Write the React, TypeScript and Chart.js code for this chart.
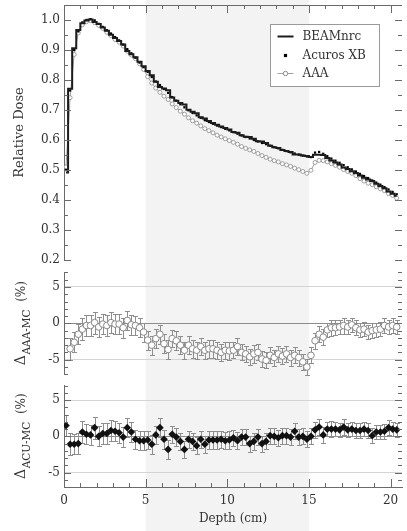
import React, { useEffect, useRef } from "react";
import { Chart, registerables } from "chart.js";

Chart.register(...registerables);

// ---------------- data ----------------
const depthCm = [
  0.125, 0.375, 0.625, 0.875, 1.125, 1.375, 1.625, 1.875, 2.125, 2.375,
  2.625, 2.875, 3.125, 3.375, 3.625, 3.875, 4.125, 4.375, 4.625, 4.875,
  5.125, 5.375, 5.625, 5.875, 6.125, 6.375, 6.625, 6.875, 7.125, 7.375,
  7.625, 7.875, 8.125, 8.375, 8.625, 8.875, 9.125, 9.375, 9.625, 9.875,
  10.125, 10.375, 10.625, 10.875, 11.125, 11.375, 11.625, 11.875, 12.125, 12.375,
  12.625, 12.875, 13.125, 13.375, 13.625, 13.875, 14.125, 14.375, 14.625, 14.875,
  15.125, 15.375, 15.625, 15.875, 16.125, 16.375, 16.625, 16.875, 17.125, 17.375,
  17.625, 17.875, 18.125, 18.375, 18.625, 18.875, 19.125, 19.375, 19.625, 19.875,
  20.125, 20.375,
];

const beamnrcDose = [
  0.492, 0.771, 0.906, 0.967, 0.989, 0.998, 1.002, 0.993, 0.987, 0.975,
  0.964, 0.951, 0.940, 0.930, 0.918, 0.897, 0.886, 0.876, 0.861, 0.846,
  0.830, 0.816, 0.794, 0.777, 0.772, 0.766, 0.742, 0.731, 0.723, 0.718,
  0.701, 0.694, 0.689, 0.676, 0.672, 0.663, 0.657, 0.651, 0.645, 0.640,
  0.635, 0.627, 0.624, 0.616, 0.611, 0.610, 0.604, 0.596, 0.595, 0.590,
  0.581, 0.576, 0.573, 0.567, 0.563, 0.560, 0.552, 0.552, 0.548, 0.547,
  0.543, 0.551, 0.551, 0.550, 0.540, 0.532, 0.525, 0.518, 0.508, 0.503,
  0.496, 0.490, 0.482, 0.474, 0.468, 0.463, 0.454, 0.447, 0.439, 0.428,
  0.421, 0.414,
];

const acurosDose = [
  0.500, 0.765, 0.900, 0.962, 0.992, 1.000, 1.003, 0.999, 0.987, 0.977,
  0.966, 0.955, 0.943, 0.932, 0.918, 0.903, 0.889, 0.874, 0.858, 0.843,
  0.827, 0.810, 0.795, 0.783, 0.770, 0.757, 0.743, 0.731, 0.719, 0.709,
  0.699, 0.690, 0.682, 0.674, 0.666, 0.660, 0.654, 0.648, 0.643, 0.637,
  0.632, 0.626, 0.621, 0.615, 0.610, 0.605, 0.600, 0.595, 0.590, 0.586,
  0.581, 0.576, 0.572, 0.567, 0.563, 0.559, 0.555, 0.551, 0.548, 0.545,
  0.543, 0.558, 0.560, 0.554, 0.546, 0.538, 0.531, 0.524, 0.516, 0.509,
  0.502, 0.495, 0.487, 0.480, 0.473, 0.465, 0.458, 0.451, 0.443, 0.435,
  0.427, 0.419,
];

const aaaDose = [
  0.510, 0.741, 0.885, 0.957, 0.984, 0.994, 0.998, 0.991, 0.982, 0.972,
  0.959, 0.948, 0.935, 0.926, 0.913, 0.896, 0.883, 0.871, 0.854, 0.835,
  0.811, 0.790, 0.773, 0.759, 0.746, 0.735, 0.720, 0.708, 0.696, 0.686,
  0.674, 0.664, 0.656, 0.647, 0.638, 0.631, 0.624, 0.616, 0.610, 0.604,
  0.598, 0.592, 0.586, 0.578, 0.572, 0.567, 0.562, 0.555, 0.548, 0.542,
  0.536, 0.531, 0.527, 0.521, 0.517, 0.512, 0.506, 0.501, 0.495, 0.489,
  0.499, 0.525, 0.532, 0.531, 0.527, 0.521, 0.515, 0.509, 0.501, 0.495,
  0.489, 0.481, 0.471, 0.463, 0.456, 0.451, 0.444, 0.437, 0.431, 0.421,
  0.415, 0.406,
];

const deltaAaaMc = [
  null, -3.5, -2.6, -1.5, -0.8, -0.3, -0.3, 0.1, -0.5, -0.1,
  -0.3, 0.1, -0.1, -0.1, -0.6, 0.4, -0.2, -0.3, -0.6, -1.2,
  -2.3, -3.0, -2.1, -1.5, -2.8, -3.6, -2.1, -2.4, -3.0, -3.7,
  -3.0, -3.5, -3.7, -3.2, -3.7, -3.5, -3.5, -3.7, -4.0, -3.7,
  -3.8, -3.7, -3.2, -4.0, -4.2, -4.6, -4.2, -4.0, -4.9, -5.1,
  -4.4, -4.7, -4.2, -4.5, -4.2, -4.7, -4.4, -4.7, -5.3, -6.0,
  -4.4, -2.4, -1.5, -1.9, -0.9, -0.6, -0.6, -0.5, -0.3, -0.5,
  -0.2, -0.6, -0.9, -0.8, -1.2, -1.0, -0.9, -0.8, -0.3, -0.5,
  -0.3, -0.5,
];

const deltaAcuMc = [
  1.5, -1.1, -1.1, -1.0, 0.6, 0.3, 0.2, 1.2, 0.0, 0.4,
  0.4, 0.8, 0.7, 0.5, -0.1, 1.2, 0.6, -0.4, -0.6, -0.6,
  -0.5, -1.1, 0.2, 1.2, -0.4, -1.8, 0.3, -0.1, -0.7, -1.8,
  -0.4, -0.7, -1.3, -0.4, -1.1, -0.5, -0.5, -0.5, -0.4, -0.6,
  -0.5, -0.2, -0.6, -0.1, -0.1, -1.0, -0.7, -0.1, -1.0, -0.7,
  0.1, 0.0, -0.2, 0.1, 0.1, -0.1, 0.7, -0.1, 0.0, -0.4,
  0.0, 0.9, 1.3, 0.2, 1.0, 1.0, 1.0, 0.9, 1.3, 0.9,
  1.0, 0.8, 0.8, 1.0, 0.8, 0.1, 0.6, 0.6, 0.7, 1.2,
  1.0, 0.9,
];

const mcUncertainty = [
  1.5, 1.5, 1.4, 1.4, 1.5, 1.4, 1.4, 1.5, 1.4, 1.4,
  1.4, 1.4, 1.4, 1.4, 1.4, 1.3, 1.4, 1.3, 1.3, 1.3,
  1.3, 1.3, 1.3, 1.3, 1.3, 1.3, 1.2, 1.3, 1.2, 1.2,
  1.2, 1.2, 1.2, 1.2, 1.2, 1.2, 1.2, 1.2, 1.2, 1.2,
  1.2, 1.1, 1.2, 1.1, 1.1, 1.1, 1.2, 1.1, 1.1, 1.1,
  1.1, 1.1, 1.1, 1.1, 1.1, 1.1, 1.1, 1.1, 1.1, 1.1,
  1.1, 1.1, 1.1, 1.1, 1.0, 1.1, 1.0, 1.0, 1.1, 1.0,
  1.0, 1.0, 1.0, 1.0, 1.0, 1.0, 1.0, 1.0, 1.0, 1.0,
  1.0, 1.0,
];

const doseTicks = [0.2, 0.3, 0.4, 0.5, 0.6, 0.7, 0.8, 0.9, 1.0];
const deltaTicks = [-5, 0, 5];
const depthTicks = [0, 5, 10, 15, 20];
const lungSlab = [5, 15];
const legendLabels = ["BEAMnrc", "Acuros XB", "AAA"];

// ---------------- styling ----------------
const FONT = '"DejaVu Serif", serif';
const AXIS = "#6a6a6a";
const TEXT = "#333333";
const SHADE = "#f3f3f3";

const pts = (ys: (number | null)[]) => depthCm.map((x, i) => ({ x, y: ys[i] }));

const shadePlugin = {
  id: "shade",
  beforeDraw(chart: any) {
    const { ctx } = chart;
    const xs = chart.scales.x;
    const l = xs.getPixelForValue(lungSlab[0]);
    const r = xs.getPixelForValue(lungSlab[1]);
    ctx.save();
    ctx.fillStyle = "#ffffff";
    ctx.fillRect(0, 0, chart.width, chart.height);
    ctx.fillStyle = SHADE;
    ctx.fillRect(l, 0, r - l, chart.height);
    ctx.restore();
  },
};

const errorBarPlugin = {
  id: "errorBars",
  beforeDatasetsDraw(chart: any) {
    const { ctx } = chart;
    const xs = chart.scales.x;
    const sets: [string, (number | null)[]][] = [
      ["yAAA", deltaAaaMc],
      ["yACU", deltaAcuMc],
    ];
    ctx.save();
    ctx.strokeStyle = "#8e8e8e";
    ctx.lineWidth = 1;
    sets.forEach(([id, vals]) => {
      const ys = chart.scales[id];
      ctx.beginPath();
      vals.forEach((v, i) => {
        if (v == null) return;
        const px = Math.round(xs.getPixelForValue(depthCm[i])) + 0.5;
        const t = Math.round(ys.getPixelForValue(v + mcUncertainty[i])) + 0.5;
        const b = Math.round(ys.getPixelForValue(v - mcUncertainty[i])) + 0.5;
        ctx.moveTo(px, t);
        ctx.lineTo(px, b);
        ctx.moveTo(px - 2.5, t);
        ctx.lineTo(px + 2.5, t);
        ctx.moveTo(px - 2.5, b);
        ctx.lineTo(px + 2.5, b);
      });
      ctx.stroke();
    });
    ctx.restore();
  },
};

const framePlugin = {
  id: "frame",
  afterDatasetsDraw(chart: any) {
    const { ctx, chartArea: a } = chart;
    const xs = chart.scales.x;
    ctx.save();
    ctx.strokeStyle = AXIS;
    ctx.lineWidth = 1;
    ctx.beginPath();
    const topY = Math.round(a.top) + 0.5;
    ctx.moveTo(a.left, topY);
    ctx.lineTo(a.right, topY);
    for (let k = 0; k <= 20; k++) {
      const px = Math.round(xs.getPixelForValue(k)) + 0.5;
      const len = k % 5 === 0 ? 8 : 4;
      ctx.moveTo(px, a.top);
      ctx.lineTo(px, a.top + len);
      ctx.moveTo(px, a.bottom);
      ctx.lineTo(px, a.bottom - len);
    }
    const yt = (s: any, kFrom: number, kTo: number, step: number, every: number) => {
      for (let k = kFrom; k <= kTo; k++) {
        const v = k * step;
        if (v < s.min - 1e-9 || v > s.max + 1e-9) continue;
        const py = Math.round(s.getPixelForValue(v)) + 0.5;
        const len = k % every === 0 ? 7 : 4;
        ctx.moveTo(a.left, py);
        ctx.lineTo(a.left + len, py);
        ctx.moveTo(a.right, py);
        ctx.lineTo(a.right - len, py);
      }
    };
    yt(chart.scales.yDose, 4, 21, 0.05, 2);
    yt(chart.scales.yAAA, -7, 7, 1, 5);
    yt(chart.scales.yACU, -7, 7, 1, 5);
    ctx.stroke();
    ctx.restore();
  },
};

const legendPlugin = {
  id: "legendBox",
  afterDraw(chart: any) {
    const { ctx, chartArea: a } = chart;
    const lx = Math.round(a.right - 132) + 0.5;
    const ly = Math.round(a.top + 19) + 0.5;
    const w = 109;
    const h = 62;
    const ds = chart.data.datasets;
    ctx.save();
    ctx.fillStyle = "#ffffff";
    ctx.fillRect(lx, ly, w, h);
    ctx.strokeStyle = "#9a9a9a";
    ctx.lineWidth = 1;
    ctx.strokeRect(lx, ly, w, h);
    const rows = [12, 31, 49];
    const sx = lx + 15;
    ctx.strokeStyle = ds[0].borderColor;
    ctx.lineWidth = 2;
    ctx.beginPath();
    ctx.moveTo(sx - 8, ly + rows[0]);
    ctx.lineTo(sx + 8, ly + rows[0]);
    ctx.stroke();
    ctx.fillStyle = ds[1].backgroundColor;
    ctx.fillRect(sx - 1.6, ly + rows[1] - 1.6, 3.2, 3.2);
    ctx.strokeStyle = ds[2].borderColor;
    ctx.lineWidth = 1;
    ctx.beginPath();
    ctx.moveTo(sx - 8, ly + rows[2]);
    ctx.lineTo(sx + 8, ly + rows[2]);
    ctx.stroke();
    ctx.beginPath();
    ctx.arc(sx, ly + rows[2], 2.2, 0, Math.PI * 2);
    ctx.fillStyle = "#ffffff";
    ctx.fill();
    ctx.strokeStyle = ds[2].pointBorderColor;
    ctx.stroke();
    ctx.fillStyle = TEXT;
    ctx.font = `12px ${FONT}`;
    ctx.textAlign = "left";
    ctx.textBaseline = "middle";
    legendLabels.forEach((t, i) => ctx.fillText(t, lx + 32, ly + rows[i]));
    ctx.restore();
  },
};

const deltaTitlePlugin = {
  id: "deltaTitles",
  afterDraw(chart: any) {
    const { ctx } = chart;
    const items: [string, string][] = [
      ["yAAA", "AAA-MC"],
      ["yACU", "ACU-MC"],
    ];
    items.forEach(([id, sub]) => {
      const s = chart.scales[id];
      const cy = (s.top + s.bottom) / 2;
      const bx = s.left + 25;
      ctx.save();
      ctx.translate(bx, cy);
      ctx.rotate(-Math.PI / 2);
      ctx.fillStyle = TEXT;
      ctx.textAlign = "left";
      ctx.textBaseline = "alphabetic";
      const big = `14px ${FONT}`;
      const small = `10.5px ${FONT}`;
      const mid = `12px ${FONT}`;
      ctx.font = big;
      const wD = ctx.measureText("Δ").width;
      ctx.font = small;
      const wS = ctx.measureText(sub).width;
      ctx.font = mid;
      const wP = ctx.measureText("  (%)").width;
      let x0 = -(wD + wS + wP) / 2;
      ctx.font = big;
      ctx.fillText("Δ", x0, 0);
      x0 += wD + 0.5;
      ctx.font = small;
      ctx.fillText(sub, x0, 5);
      x0 += wS;
      ctx.font = mid;
      ctx.fillText("  (%)", x0, 0);
      ctx.restore();
    });
  },
};

const tickFont = { family: FONT, size: 12 };

const yCommon = (weight: number, stackWeight: number) => ({
  type: "linear",
  position: "left",
  stack: "panels",
  weight,
  stackWeight,
  border: { display: true, color: AXIS, width: 1 },
  ticks: { font: tickFont, color: TEXT, padding: 4 },
  afterFit: (s: any) => {
    s.width = 64;
    s.paddingTop = 0;
    s.paddingBottom = 0;
  },
});

const deltaGrid = {
  drawTicks: false,
  lineWidth: 1,
  color: (c: any) => (c.tick && c.tick.value === 0 ? "#8c8c8c" : "#d4d4d4"),
};

export default function App() {
  const ref = useRef<HTMLCanvasElement>(null);

  useEffect(() => {
    const chart = new Chart(ref.current as HTMLCanvasElement, {
      type: "line",
      data: {
        datasets: [
          {
            label: legendLabels[0],
            data: pts(beamnrcDose),
            yAxisID: "yDose",
            borderColor: "#1c1c1c",
            backgroundColor: "#1c1c1c",
            borderWidth: 2,
            pointRadius: 0,
            stepped: "middle",
            fill: false,
          },
          {
            label: legendLabels[1],
            data: pts(acurosDose),
            yAxisID: "yDose",
            showLine: false,
            pointStyle: "rect",
            pointRadius: 1.6,
            backgroundColor: "#000000",
            borderColor: "#000000",
            pointBorderWidth: 0,
          },
          {
            label: legendLabels[2],
            data: pts(aaaDose),
            yAxisID: "yDose",
            borderColor: "#a3a3a3",
            borderWidth: 1,
            pointStyle: "circle",
            pointRadius: 2,
            pointBackgroundColor: "#ffffff",
            pointBorderColor: "#8a8a8a",
            pointBorderWidth: 0.8,
            fill: false,
          },
          {
            label: "ΔAAA-MC",
            data: pts(deltaAaaMc),
            yAxisID: "yAAA",
            showLine: false,
            pointStyle: "circle",
            pointRadius: 3.3,
            pointBackgroundColor: "#ffffff",
            pointBorderColor: "#8a8a8a",
            pointBorderWidth: 1,
          },
          {
            label: "ΔACU-MC",
            data: pts(deltaAcuMc),
            yAxisID: "yACU",
            showLine: false,
            pointStyle: "rectRot",
            pointRadius: 3.8,
            pointBackgroundColor: "#111111",
            pointBorderColor: "#111111",
            pointBorderWidth: 0,
          },
        ],
      },
      options: {
        responsive: false,
        animation: false,
        devicePixelRatio: 1,
        layout: { padding: { top: 4, right: 1, left: 0, bottom: 0 } },
        plugins: { legend: { display: false }, tooltip: { enabled: false } },
        scales: {
          x: {
            type: "linear",
            position: "bottom",
            min: 0,
            max: 20.7,
            grid: { color: "rgba(0,0,0,0)", drawTicks: false },
            border: { display: true, color: AXIS, width: 1 },
            ticks: { font: tickFont, color: TEXT, padding: 7 },
            afterBuildTicks: (s: any) => {
              s.ticks = depthTicks.map((v) => ({ value: v }));
            },
            title: {
              display: true,
              text: "Depth (cm)",
              font: { family: FONT, size: 12 },
              color: TEXT,
              padding: { top: 0, bottom: 5 },
            },
            afterFit: (s: any) => {
              s.height = 44;
              s.paddingLeft = 0;
              s.paddingRight = 0;
            },
          },
          yDose: {
            ...yCommon(5, 255.5),
            min: 0.2,
            max: 1.05,
            grid: { color: "rgba(0,0,0,0)", drawTicks: false },
            ticks: {
              font: tickFont,
              color: TEXT,
              padding: 4,
              callback: (v: any) => Number(v).toFixed(1),
            },
            afterBuildTicks: (s: any) => {
              s.ticks = doseTicks.map((v) => ({ value: v }));
            },
            title: {
              display: true,
              text: "Relative Dose",
              font: { family: FONT, size: 13 },
              color: TEXT,
              padding: { top: 12, bottom: 0 },
            },
          },
          gapA: {
            type: "linear",
            position: "left",
            stack: "panels",
            weight: 4,
            stackWeight: 12.5,
            display: false,
          },
          yAAA: {
            ...yCommon(3, 102),
            min: -7,
            max: 7,
            grid: deltaGrid,
            afterBuildTicks: (s: any) => {
              s.ticks = deltaTicks.map((v) => ({ value: v }));
            },
          },
          gapB: {
            type: "linear",
            position: "left",
            stack: "panels",
            weight: 2,
            stackWeight: 11.5,
            display: false,
          },
          yACU: {
            ...yCommon(1, 101.5),
            min: -7,
            max: 7,
            grid: deltaGrid,
            afterBuildTicks: (s: any) => {
              s.ticks = deltaTicks.map((v) => ({ value: v }));
            },
          },
        },
      } as any,
      plugins: [shadePlugin, errorBarPlugin, framePlugin, legendPlugin, deltaTitlePlugin],
    } as any);
    return () => chart.destroy();
  }, []);

  return (
    <div style={{ position: "absolute", left: 0, top: 0, width: 407, height: 531, background: "#fff" }}>
      <canvas ref={ref} width={407} height={531} style={{ display: "block" }} />
    </div>
  );
}
